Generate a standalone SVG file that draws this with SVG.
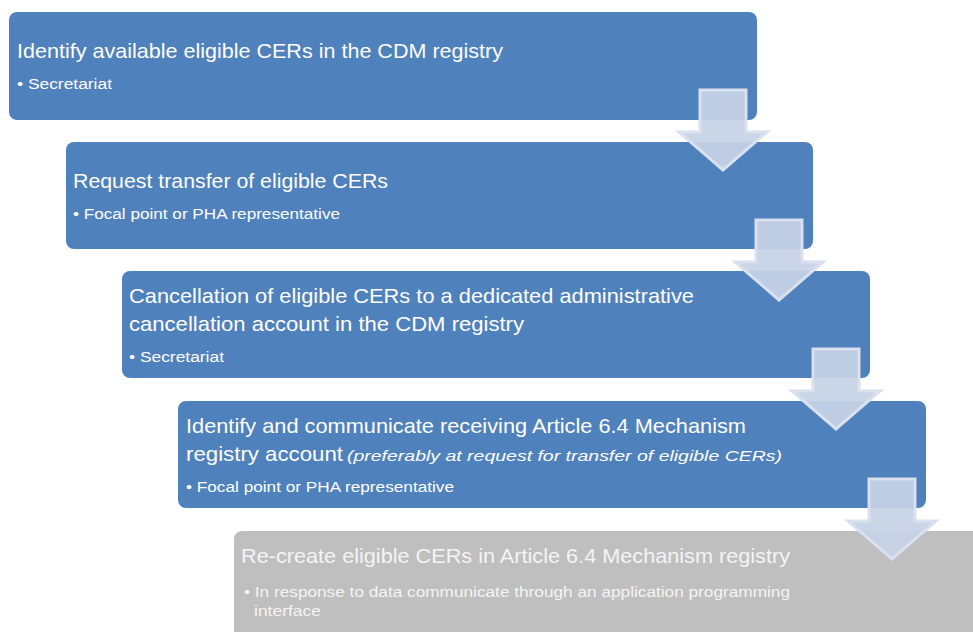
<svg xmlns="http://www.w3.org/2000/svg" width="973" height="632" viewBox="0 0 973 632">
  <defs>
    <style>
      .step { fill: #4f81bd; }
      .last { fill: #bfbfbf; }
      .title { font-family: "Liberation Sans", Arial, sans-serif; font-size: 21px; fill: #ffffff; }
      .sub { font-family: "Liberation Sans", Arial, sans-serif; font-size: 14px; fill: #ffffff; }
      .last-text { fill: #f4f4f4; }
      .it { font-style: italic; }
      .flow { fill: #c7d2e6; fill-opacity: 0.93; stroke: #d9e0ee; stroke-width: 3; stroke-linejoin: miter; }
    </style>
    <!-- down arrow, origin at shaft top-left -->
    <path id="down" d="M0,0 H46 V42 H67 L23,80 L-21,42 H0 Z"/>
  </defs>

  <g id="step1">
    <rect class="step" x="9" y="12" width="748" height="108" rx="8"/>
    <text class="title" x="17" y="58" textLength="486" lengthAdjust="spacingAndGlyphs">Identify available eligible CERs in the CDM registry</text>
    <text class="sub" x="17" y="89" textLength="95" lengthAdjust="spacingAndGlyphs">• Secretariat</text>
  </g>

  <g id="step2">
    <rect class="step" x="66" y="142" width="747" height="107" rx="8"/>
    <text class="title" x="73" y="188" textLength="315" lengthAdjust="spacingAndGlyphs">Request transfer of eligible CERs</text>
    <text class="sub" x="73" y="219" textLength="267" lengthAdjust="spacingAndGlyphs">• Focal point or PHA representative</text>
  </g>

  <g id="step3">
    <rect class="step" x="122" y="271" width="748" height="107" rx="8"/>
    <text class="title" x="129" y="303" textLength="565" lengthAdjust="spacingAndGlyphs">Cancellation of eligible CERs to a dedicated administrative</text>
    <text class="title" x="129" y="331" textLength="395" lengthAdjust="spacingAndGlyphs">cancellation account in the CDM registry</text>
    <text class="sub" x="129" y="362" textLength="95" lengthAdjust="spacingAndGlyphs">• Secretariat</text>
  </g>

  <g id="step4">
    <rect class="step" x="178" y="401" width="748" height="107" rx="8"/>
    <text class="title" x="186" y="433" textLength="560" lengthAdjust="spacingAndGlyphs">Identify and communicate receiving Article 6.4 Mechanism</text>
    <text class="title" x="186" y="461" textLength="157" lengthAdjust="spacingAndGlyphs">registry account</text>
    <text class="sub it" x="347" y="461" font-size="16" textLength="435" lengthAdjust="spacingAndGlyphs">(preferably at request for transfer of eligible CERs)</text>
    <text class="sub" x="186" y="492" textLength="268" lengthAdjust="spacingAndGlyphs">• Focal point or PHA representative</text>
  </g>

  <g id="step5">
    <rect class="last" x="234" y="531" width="760" height="120" rx="8"/>
    <text class="title last-text" x="241" y="563" textLength="549" lengthAdjust="spacingAndGlyphs">Re-create eligible CERs in Article 6.4 Mechanism registry</text>
    <text class="sub last-text" x="244" y="597" textLength="546" lengthAdjust="spacingAndGlyphs">• In response to data communicate through an application programming</text>
    <text class="sub last-text" x="254" y="616" textLength="67" lengthAdjust="spacingAndGlyphs">interface</text>
  </g>

  <g id="connectors">
    <use href="#down" class="flow" x="700" y="90"/>
    <use href="#down" class="flow" x="756" y="220"/>
    <use href="#down" class="flow" x="813" y="349"/>
    <use href="#down" class="flow" x="869" y="479"/>
  </g>
</svg>
